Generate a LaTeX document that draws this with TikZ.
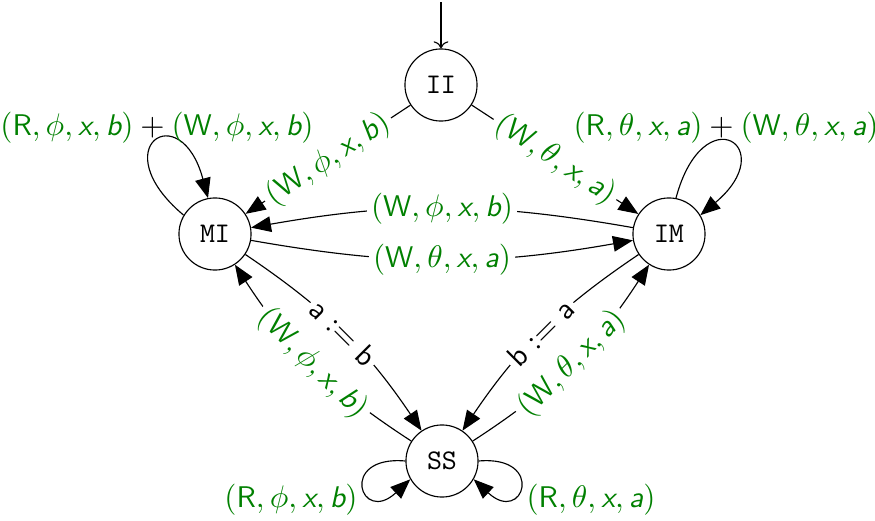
\documentclass[tikz,border=0pt]{standalone}
\usetikzlibrary{arrows.meta,calc}
\definecolor{lblgreen}{rgb}{0,0.5,0}
\newcommand{\mylab}[4]{\textcolor{lblgreen}{$(\textsf{#1},#2,\textsf{\itshape #3},\textsf{\itshape #4})$}}
\begin{document}
\begin{tikzpicture}[x=0.351pt,y=0.351pt,
  state/.style={circle,draw,minimum size=25.3pt,inner sep=0pt,font=\ttfamily},
  arr/.style={-{Triangle[length=7pt,width=5.5pt]}},
  elab/.style={fill=white,inner sep=1.5pt,sloped,font=\sffamily\fontsize{10.5}{12}\selectfont},
  llab/.style={font=\sffamily\fontsize{10.5}{12}\selectfont},
  ]
\useasboundingbox (0,0) rectangle (875,520);
\node[state] (II) at (441,435) {II};
\node[state] (MI) at (215,286) {MI};
\node[state] (IM) at (669,286) {IM};
\node[state] (SS) at (442,59) {SS};
\coordinate (init) at (441,518);
\draw[->] (init) -- (II);
\draw[arr] (II) -- node[elab]{\mylab{W}{\phi}{x}{b}} (MI);
\draw[arr] (II) -- node[elab]{\mylab{W}{\theta}{x}{a}} (IM);
\draw[arr] (IM) to[bend right=10] node[elab]{\mylab{W}{\phi}{x}{b}} (MI);
\draw[arr] (MI) to[bend right=10] node[elab]{\mylab{W}{\theta}{x}{a}} (IM);
\draw[arr] (MI) to[bend left=11] node[elab]{$\textsf{a}:=\textsf{b}$} (SS);
\draw[arr] (SS) to[bend left=12] node[elab]{\mylab{W}{\phi}{x}{b}} (MI);
\draw[arr] (IM) to[bend right=11] node[elab]{$\textsf{b}:=\textsf{a}$} (SS);
\draw[arr] (SS) to[bend right=12] node[elab]{\mylab{W}{\theta}{x}{a}} (IM);
\draw[arr] (MI.149) .. controls ($(MI.149)+(140:106)$) and ($(MI.101)+(105:106)$) .. (MI.101);
\draw[arr] (IM.79) .. controls ($(IM.79)+(75:106)$) and ($(IM.31)+(40:106)$) .. (IM.31);
\draw[arr] (SS.180) .. controls ($(SS.180)+(175:68)$) and ($(SS.210)+(223:68)$) .. (SS.210);
\draw[arr] (SS.0) .. controls ($(SS.0)+(5:68)$) and ($(SS.330)+(-43:68)$) .. (SS.330);
\node[llab] (lMI) at (157,392) {\mylab{R}{\phi}{x}{b}${}+{}$\mylab{W}{\phi}{x}{b}};
\node[llab] (lIM) at (726,392) {\mylab{R}{\theta}{x}{a}${}+{}$\mylab{W}{\theta}{x}{a}};
\node[llab] (lSSl) at (291,20) {\mylab{R}{\phi}{x}{b}};
\node[llab] (lSSr) at (591,20) {\mylab{R}{\theta}{x}{a}};
\end{tikzpicture}
\end{document}
